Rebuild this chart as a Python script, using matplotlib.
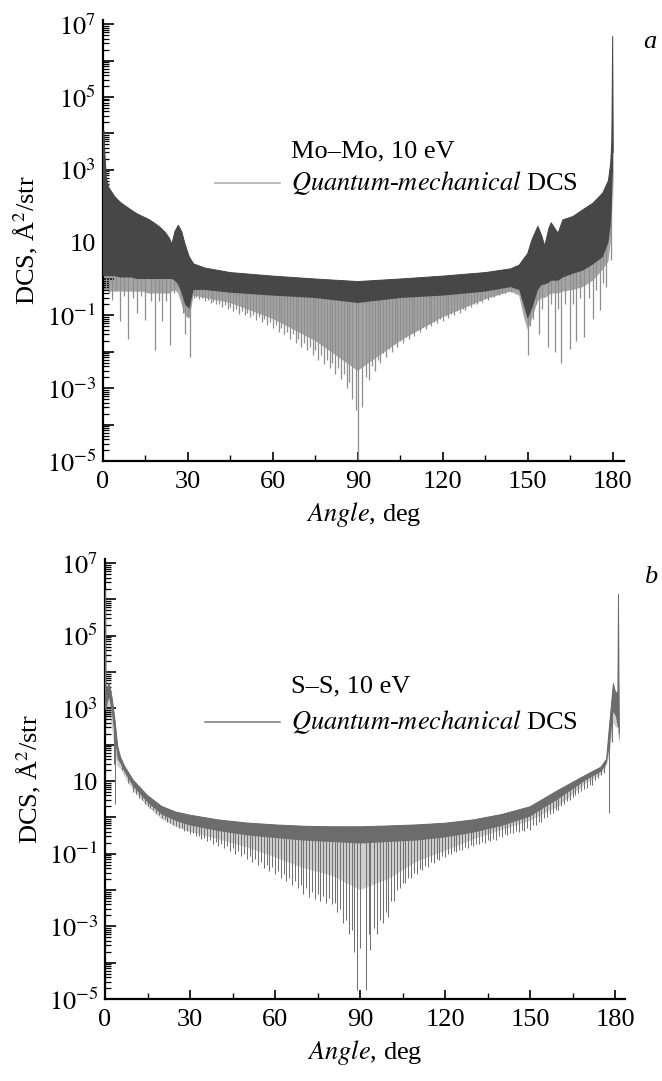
import matplotlib
matplotlib.use("Agg")
import matplotlib.pyplot as plt
import numpy as np
from matplotlib.ticker import FixedLocator, FuncFormatter, LogLocator, NullFormatter

plt.rcParams["font.family"] = "serif"
plt.rcParams["font.serif"] = ["Liberation Serif", "DejaVu Serif"]
plt.rcParams["mathtext.fontset"] = "stix"

# ---- panel a: Mo-Mo, 10 eV ----
# envelope of the dense oscillation band: top edge, lower edge of the dark band,
# lower edge of the light-grey comb
a_deg = [0.0, 0.3, 0.7, 1.2, 2.0, 4.0, 6.0, 8.0, 10.0, 12.0, 14.0, 16.0, 18.0,
         20.0, 22.0, 23.5, 24.3, 25.4, 26.6, 27.8, 29.0, 30.5, 32.0, 36.0, 45.0,
         60.0, 75.0, 90.0, 105.0, 120.0, 135.0, 144.0, 147.0, 148.5, 150.0,
         151.5, 153.6, 155.0, 156.0, 157.5, 158.3, 160.7, 162.4, 166.0, 169.5,
         173.0, 176.5, 178.5, 179.3, 179.7, 180.0, 180.2]
a_top = [3000, 1.2e4, 2500, 600, 330, 190, 130, 100, 78, 62, 52, 44, 35,
         27, 19, 13, 9, 20, 30, 20, 9, 4.0, 2.6, 2.0, 1.5,
         1.2, 1.0, 0.85, 1.0, 1.2, 1.5, 1.9, 2.4, 3.5, 5.0,
         12, 28, 15, 8, 25, 35, 18, 42, 52, 80,
         120, 230, 500, 1500, 6000, 4.6e6, 3000]
a_band = [1.2, 1.2, 1.2, 1.2, 1.2, 1.2, 1.1, 1.1, 1.1, 1.0, 1.0, 1.0, 1.0,
          1.0, 1.0, 1.0, 1.0, 0.9, 0.7, 0.4, 0.2, 0.15, 0.5, 0.5, 0.42,
          0.35, 0.3, 0.22, 0.3, 0.35, 0.45, 0.6, 0.5, 0.2, 0.08,
          0.15, 0.5, 0.7, 0.7, 0.8, 0.9, 0.9, 1.1, 1.4, 1.7,
          2.5, 4.0, 10, 30, 100, 1000, 300]
a_comb = [0.5, 0.5, 0.5, 0.5, 0.45, 0.45, 0.45, 0.45, 0.45, 0.45, 0.45, 0.4,
          0.4, 0.4, 0.4, 0.4, 0.45, 0.5, 0.4, 0.2, 0.1, 0.08, 0.35, 0.3, 0.22,
          0.08, 0.02, 0.003, 0.02, 0.09, 0.28, 0.45, 0.35, 0.1, 0.04,
          0.08, 0.25, 0.3, 0.3, 0.35, 0.4, 0.4, 0.45, 0.5, 0.6,
          0.9, 1.8, 3.0, 10, 30, 300, 100]
# bottoms of the main minima (spikes)
a_spike_deg = [1.0, 2.0, 3.1, 4.5, 6.0, 7.5, 9.0, 10.5, 12.0, 13.5, 15.0, 16.8,
               18.5, 19.8, 20.8, 22.3, 23.8, 25.0, 26.2, 27.5, 28.3, 29.0, 30.0,
               30.8,
               32, 34, 36, 38, 40, 42, 44, 46, 48, 50, 52, 54, 56, 58, 60, 62,
               64, 66, 68, 70, 72, 74, 76, 78, 80, 82, 84, 86, 88, 89.2, 90,
               91.5, 94, 96, 98, 100, 102, 104, 106, 108, 110, 112, 114, 116,
               118, 120, 122, 124, 126, 128, 130, 132, 134, 136, 138, 140, 142,
               144, 146, 148,
               149.2, 150.0, 150.8, 151.8, 152.8, 154.0, 155.2, 157.0, 158.2,
               159.5, 160.7, 161.9, 163.3, 164.8, 166.0, 167.0, 168.5, 170.0,
               171.5, 173.0, 174.2, 175.4, 176.6, 177.8, 179.5]
a_spike_val = [0.5, 0.4, 0.26, 0.5, 0.07, 0.35, 0.023, 0.3, 0.12, 0.35, 0.075,
               0.25, 0.011, 0.25, 0.07, 0.25, 0.015, 0.4, 0.6, 0.35, 0.12, 0.03,
               0.09, 0.007,
               0.3, 0.28, 0.25, 0.22, 0.2, 0.17, 0.15, 0.13, 0.11, 0.1, 0.09,
               0.075, 0.065, 0.055, 0.045, 0.036, 0.03, 0.022, 0.018, 0.014,
               0.011, 0.008, 0.006, 0.0045, 0.0035, 0.0025, 0.0018, 0.001,
               0.0005, 2.5e-4, 1e-5, 3e-4, 0.0017, 0.003, 0.005, 0.007, 0.01,
               0.014, 0.018, 0.023, 0.028, 0.034, 0.042, 0.05, 0.06, 0.07,
               0.085, 0.1, 0.12, 0.14, 0.17, 0.2, 0.23, 0.27, 0.32, 0.36, 0.4,
               0.45, 0.5, 0.55,
               0.2, 0.008, 0.05, 0.08, 0.2, 0.03, 0.15, 0.014, 0.2, 0.01, 0.15,
               0.005, 0.2, 0.012, 0.2, 0.02, 0.3, 0.025, 0.3, 0.08, 0.5, 0.14,
               0.8, 0.6, 3.3]
# in-between minima, middle part
a_spike2_deg = [33, 35, 37, 39, 41, 43, 45, 47, 49, 51, 53, 55, 57, 59, 61, 63,
                65, 67, 69, 71, 73, 75, 77, 79, 81, 83, 85, 87,
                93, 95, 97, 99, 101, 103, 105, 107, 109, 111, 113, 115, 117,
                119, 121, 123, 125, 127, 129, 131, 133, 135, 137, 139, 141, 143,
                145, 147]
a_spike2_val = [0.33, 0.3, 0.27, 0.24, 0.21, 0.19, 0.17, 0.15, 0.13, 0.12, 0.1,
                0.09, 0.08, 0.065, 0.055, 0.045, 0.035, 0.03, 0.022, 0.018,
                0.014, 0.011, 0.008, 0.006, 0.005, 0.0035, 0.0025, 0.0015,
                0.002, 0.004, 0.006, 0.009, 0.012, 0.016, 0.02, 0.026, 0.032,
                0.04, 0.048, 0.058, 0.068, 0.08, 0.095, 0.11, 0.13, 0.15, 0.18,
                0.21, 0.25, 0.29, 0.33, 0.38, 0.42, 0.47, 0.52, 0.58]

# ---- panel b: S-S, 10 eV ----
b_deg = [0.0, 0.2, 0.4, 1.0, 1.5, 2.5, 3.5, 4.5, 5.5, 7.0, 10, 15, 20, 25, 30,
         40, 50, 60, 70, 80, 90, 100, 110, 120, 130, 140, 150, 160, 170, 175,
         177, 178.2, 179.4, 180.3, 181.0, 181.2, 181.5]
b_top = [3000, 1.8e6, 3000, 4000, 5000, 2000, 500, 90, 45, 25, 10.5, 4.0, 2.0,
         1.4, 1.15, 0.85, 0.7, 0.62, 0.57, 0.55, 0.55, 0.58, 0.62, 0.69, 0.85,
         1.2, 1.95, 5.6, 15, 24, 40, 450, 4800, 2500, 3000, 1.4e6, 200]
b_band = [800, 1000, 800, 1500, 2000, 700, 150, 40, 30, 17, 7, 2.6, 1.2, 0.8,
          0.6, 0.42, 0.32, 0.27, 0.23, 0.21, 0.19, 0.21, 0.23, 0.28, 0.38, 0.58,
          1.05, 3.2, 11, 18, 30, 100, 800, 600, 300, 300, 100]
b_comb = [300, 300, 300, 600, 800, 300, 60, 25, 22, 13, 5.5, 2.0, 0.9, 0.55,
          0.4, 0.25, 0.15, 0.08, 0.04, 0.025, 0.01, 0.02, 0.06, 0.12, 0.25,
          0.45, 0.8, 2.0, 9, 15, 25, 60, 400, 300, 300, 300, 100]
b_spike_deg = [3.2, 3.6, 6, 8,
               10, 12, 14, 16, 18, 20, 22, 24, 26, 28, 30, 32, 34, 36, 38, 40,
               42, 44, 46, 48, 50, 52, 54, 56, 58, 60, 62, 64, 66, 68, 70, 72,
               74, 76, 78, 80, 82, 84, 86, 88, 89, 90, 92, 93.5, 96, 98, 100,
               102, 104, 106, 108, 110, 112, 114, 116, 118, 120, 122, 124, 126,
               128, 130, 132, 134, 136, 138, 140, 142, 144, 146, 148, 150, 152,
               154, 156, 158, 160, 162, 164, 166, 168, 170, 172, 174, 176,
               178.0, 179.0, 181.4]
b_spike_val = [30, 2.4, 20, 9,
               5, 3.5, 2.4, 1.8, 1.3, 0.95, 0.75, 0.6, 0.5, 0.42, 0.35, 0.3,
               0.26, 0.22, 0.19, 0.16, 0.14, 0.12, 0.1, 0.085, 0.07, 0.06, 0.05,
               0.04, 0.034, 0.028, 0.022, 0.018, 0.014, 0.011, 0.008, 0.0065,
               0.0055, 0.005, 0.0045, 0.004, 0.0025, 0.0012, 0.0006, 2e-4,
               1.8e-5, 2.5e-4, 1.8e-5, 2.2e-4, 6e-4, 0.0012, 0.0018, 0.005,
               0.011, 0.016, 0.022, 0.028, 0.035, 0.043, 0.055, 0.065, 0.08,
               0.095, 0.11, 0.125, 0.14, 0.16, 0.18, 0.2, 0.22, 0.24, 0.28,
               0.32, 0.36, 0.4, 0.43, 0.45, 0.6, 0.75, 1.0, 1.3, 1.6, 2.3, 3.0,
               4.0, 5.3, 6.5, 8, 12, 17,
               1.3, 120, 150]
b_spike2_deg = [11, 13, 15, 17, 19, 21, 23, 25, 27, 29, 31, 33, 35, 37, 39, 41,
                43, 45, 47, 49, 51, 53, 55, 57, 59, 61, 63, 65, 67, 69, 71, 73,
                75, 77, 79, 81, 83, 85, 87,
                93, 95, 97, 99, 101, 103, 105, 107, 109, 111, 113, 115, 117, 119,
                121, 123, 125, 127, 129, 131, 133, 135, 137, 139, 141, 143, 145,
                147, 149, 151, 153, 155, 157, 159, 161, 163, 165, 167, 169, 171,
                173, 175]
b_spike2_val = [4.5, 3.0, 2.1, 1.6, 1.15, 0.9, 0.72, 0.58, 0.5, 0.42, 0.36,
                0.31, 0.27, 0.24, 0.21, 0.18, 0.16, 0.14, 0.12, 0.1, 0.085,
                0.072, 0.06, 0.05, 0.042, 0.034, 0.028, 0.022, 0.018, 0.014,
                0.011, 0.009, 0.008, 0.007, 0.006, 0.0045, 0.003, 0.0015, 8e-4,
                6e-4, 9e-4, 0.0015, 0.0025, 0.005, 0.01, 0.016, 0.022, 0.03,
                0.038, 0.047, 0.058, 0.07, 0.085, 0.1, 0.115, 0.13, 0.15, 0.17,
                0.19, 0.21, 0.24, 0.26, 0.3, 0.34, 0.38, 0.42, 0.46, 0.5, 0.6,
                0.75, 0.95, 1.25, 1.6, 2.1, 2.8, 3.7, 4.8, 6.2, 8, 11, 15]

x_major = [0, 30, 60, 90, 120, 150, 180]
x_minor = [15, 45, 75, 105, 135, 165]
y_decades = [1e-5, 1e-4, 1e-3, 1e-2, 1e-1, 1, 10, 1e2, 1e3, 1e4, 1e5, 1e6, 1e7]

FS = 19


def y_label_fmt(v, pos):
    e = int(round(np.log10(v)))
    if e % 2 == 0:
        return ""
    if e == 1:
        return "10"
    return r"$10^{%d}$" % e


def draw_dcs(ax, deg, top, band, comb, spike_sets,
             band_color, comb_color, spike_color, spike_lw):
    # area under the upper envelope, used to clip the minima lines
    hull = ax.fill_between(deg, 1e-9, top, facecolor="none", edgecolor="none")
    ax.fill_between(deg, comb, top, facecolor=comb_color, lw=0, zorder=1)
    for spike_deg, spike_val in spike_sets:
        spikes = ax.vlines(spike_deg, spike_val, 1e9, colors=spike_color,
                           lw=spike_lw, zorder=2)
        spikes.set_clip_path(hull.get_paths()[0], hull.get_transform())
    ax.fill_between(deg, band, top, facecolor=band_color, lw=0, zorder=3)
    ax.plot(deg, top, color=band_color, lw=0.7, zorder=4)


def style_axes(ax, xmax):
    ax.set_yscale("log")
    ax.set_xlim(0, xmax)
    ax.set_ylim(1e-5, 1.3e7)
    for s in ["top", "right"]:
        ax.spines[s].set_visible(False)
    for s in ["left", "bottom"]:
        ax.spines[s].set_linewidth(1.6)
    ax.xaxis.set_major_locator(FixedLocator(x_major))
    ax.xaxis.set_minor_locator(FixedLocator(x_minor))
    ax.yaxis.set_major_locator(FixedLocator(y_decades))
    ax.yaxis.set_major_formatter(FuncFormatter(y_label_fmt))
    ax.yaxis.set_minor_locator(LogLocator(base=10, subs=np.arange(2, 10), numticks=100))
    ax.yaxis.set_minor_formatter(NullFormatter())
    ax.tick_params(which="both", direction="in", top=False, right=False, labelsize=FS)
    ax.tick_params(axis="y", which="major", length=8, width=1.2, pad=5)
    ax.tick_params(axis="y", which="minor", length=4, width=0.9)
    ax.tick_params(axis="x", which="major", length=6.5, width=1.2, pad=7)
    ax.tick_params(axis="x", which="minor", length=4, width=1.0)
    ax.set_xlabel(r"$\mathit{Angle}$, deg", fontsize=FS)
    ax.set_ylabel(r"DCS, Å$^2$/str", fontsize=FS)
    ax.xaxis.set_label_coords(0.5, -0.088)
    ax.yaxis.set_label_coords(-0.12, 0.5)


def add_key(ax, title, line_x, line_y, text_x, title_y, color):
    ax.plot(line_x, [line_y, line_y], color=color, lw=1.1, transform=ax.transAxes,
            clip_on=False)
    ax.text(text_x, title_y, title, fontsize=FS, ha="left", va="center",
            transform=ax.transAxes)
    ax.text(text_x, line_y, r"$\mathit{Quantum}$-$\mathit{mechanical}$ DCS",
            fontsize=FS, ha="left", va="center", transform=ax.transAxes)


fig = plt.figure(figsize=(6.62, 10.81), dpi=100)
ax_a = fig.add_axes([0.1556, 0.5735, 0.787, 0.408])
ax_b = fig.add_axes([0.1586, 0.0759, 0.7855, 0.407])

draw_dcs(ax_a, a_deg, a_top, a_band, a_comb,
         [(a_spike_deg, a_spike_val), (a_spike2_deg, a_spike2_val)],
         band_color="#474747", comb_color="#a6a6a6", spike_color="#8e8e8e",
         spike_lw=0.9)
style_axes(ax_a, 184)
add_key(ax_a, "Mo–Mo, 10 eV", [0.215, 0.340], 0.630, 0.361, 0.701, "#a8a8a8")

draw_dcs(ax_b, b_deg, b_top, b_band, b_comb,
         [(b_spike_deg, b_spike_val), (b_spike2_deg, b_spike2_val)],
         band_color="#6c6c6c", comb_color="#cfcfcf", spike_color="#727272",
         spike_lw=0.75)
style_axes(ax_b, 183.5)
add_key(ax_b, "S–S, 10 eV", [0.192, 0.337], 0.630, 0.357, 0.710, "#7a7a7a")

fig.text(650 / 662, 1 - 42 / 1081, "a", fontsize=FS, style="italic",
         ha="center", va="center")
fig.text(651 / 662, 1 - 577 / 1081, "b", fontsize=FS, style="italic",
         ha="center", va="center")

fig.savefig("out.png", dpi=100)
